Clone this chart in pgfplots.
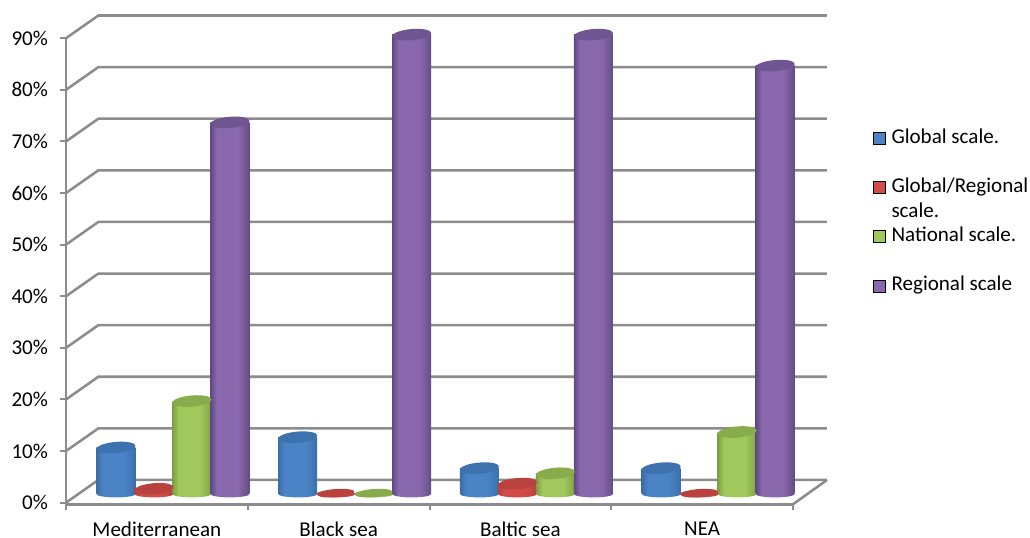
\documentclass[border=0pt]{standalone}
\usepackage{fontspec}
\setmainfont{Carlito}
\usepackage{pgfplots}
\usepackage{pgfplotstable}
\pgfplotsset{compat=1.18}

\definecolor{gridc}{HTML}{8C8C8C}
% name, edge, centre, top
\newcommand{\defcyl}[4]{%
  \definecolor{#1e}{HTML}{#2}\definecolor{#1c}{HTML}{#3}\definecolor{#1t}{HTML}{#4}%
  \pgfdeclarehorizontalshading{#1s}{100bp}{color(0bp)=(#1e); color(25bp)=(#1e); color(33bp)=(#1c); color(60bp)=(#1c); color(72bp)=(#1e!70!#1c); color(75bp)=(#1e); color(100bp)=(#1e)}%
  \pgfdeclareplotmark{#1top}{\pgfsetfillcolor{#1t}\pgfpathellipse{\pgfpointorigin}{\pgfqpoint{14.64pt}{1.28pt}}{\pgfqpoint{-0.37pt}{4.18pt}}\pgfusepath{fill}}%
  \pgfdeclareplotmark{#1base}{\pgfpathellipse{\pgfpointorigin}{\pgfqpoint{14.65pt}{0pt}}{\pgfqpoint{0pt}{2.6pt}}\pgfshadepath{#1s}{0}\pgfusepath{discard}}%
  \pgfdeclareplotmark{#1flat}{\pgfsetfillcolor{#1t}\pgfpathellipse{\pgfqpoint{0pt}{0.6pt}}{\pgfqpoint{14pt}{1pt}}{\pgfqpoint{0pt}{3.1pt}}\pgfusepath{fill}}%
}
\defcyl{cb}{3A6DA6}{4A84C6}{3E72AE}
\defcyl{cr}{B03F3B}{D24C47}{B9423E}
\defcyl{cg}{7D9F42}{A0C85C}{88AB4B}
\defcyl{cp}{5F4A80}{8A68AE}{6F5592}

\pgfplotstableread{
x      v  b
-0.225 9  0
0.775  11 0
1.775  5  0
2.775  5  0
}\tblb
\pgfplotstableread{
x      v  b
-0.016 1  0
0.984  0  0
1.984  2  0
2.984  0  0
}\tblr
\pgfplotstableread{
x      v  b
0.193  18 0
1.193  0  0
2.193  4  0
3.193  12 0
}\tblg
\pgfplotstableread{
x      v  b
0.402  72 0
1.402  89 0
2.402  89 0
3.402  83 0
}\tblp

% one ybar plot per bar, since a shading fills the whole path of a plot
\newcommand{\cylbar}[3]{%
  \addplot[ybar, bar width=29.25pt, bar shift=0pt, draw=none, shade, shading=#1s,
    restrict x to domain=#3, restrict y to domain=0.5:100, forget plot] table[x=x, y=v] {#2};
}
\newcommand{\cyl}[2]{%
  \addplot[only marks, mark=#1base, forget plot] table[x=x, y=b] {#2};
  \cylbar{#1}{#2}{-0.5:0.5}
  \cylbar{#1}{#2}{0.5:1.5}
  \cylbar{#1}{#2}{1.5:2.5}
  \cylbar{#1}{#2}{2.5:3.5}
  \addplot[only marks, mark=#1top, restrict y to domain=0.5:100, forget plot] table[x=x, y=v] {#2};
  \addplot[only marks, mark=#1flat, restrict y to domain=-0.5:0.5, forget plot] table[x=x, y=v] {#2};
}
\newcommand{\legtxt}[1]{\strut\smash{\parbox[t]{106pt}{\setlength{\baselineskip}{18.75pt}#1}}}

\begin{document}
\begin{tikzpicture}
\path[use as bounding box] (0,0) rectangle (772.5pt,403.5pt);
\begin{axis}[
    at={(49.5pt,25.3pt)}, anchor=south west,
    scale only axis,
    width=545.25pt, height=349.5pt,
    xmin=-0.5, xmax=3.5, ymin=-2, ymax=88.3,
    clip=false,
    axis lines=left,
    axis line style={draw=gridc, line width=1.9pt, -},
    tick style={draw=gridc, line width=1.5pt},
    tick align=outside,
    major tick length=4.5pt,
    xtick={-0.5,0.5,1.5,2.5,3.5}, xticklabels={},
    extra x ticks={0,1,2,3},
    extra x tick labels={Mediterranean,Black sea,Baltic sea,NEA},
    extra x tick style={major tick length=0pt, xticklabel style={yshift=-10pt}},
    ytick={-1.69,8.31,18.31,28.31,38.31,48.31,58.31,68.31,78.31,88.31},
    yticklabels={0\%,10\%,20\%,30\%,40\%,50\%,60\%,70\%,80\%,90\%},
    yticklabel style={xshift=-5.5pt},
    tick label style={font=\fontsize{15.8pt}{18pt}\selectfont},
    unbounded coords=jump,
    legend style={at={(axis cs:3.94,70.5)}, anchor=north west, draw=none, fill=none,
      inner sep=0pt, outer sep=0pt, row sep=25.6pt, column sep=4.5pt,
      font=\fontsize{15.8pt}{14pt}\selectfont,
      nodes={inner sep=0pt}},
    legend cell align=left,
    legend image code/.code={\fill[#1] (0pt,-5pt) rectangle (9pt,4pt);},
]
% back wall with its slanted side, one run for each gridline
\addplot[draw=gridc, line width=1.9pt, forget plot] coordinates {
  (-0.5,-1.69) (-0.322,2.71) (3.687,2.71) (nan,nan)
  (-0.5,8.31) (-0.322,12.71) (3.687,12.71) (nan,nan)
  (-0.5,18.31) (-0.322,22.71) (3.687,22.71) (nan,nan)
  (-0.5,28.31) (-0.322,32.71) (3.687,32.71) (nan,nan)
  (-0.5,38.31) (-0.322,42.71) (3.687,42.71) (nan,nan)
  (-0.5,48.31) (-0.322,52.71) (3.687,52.71) (nan,nan)
  (-0.5,58.31) (-0.322,62.71) (3.687,62.71) (nan,nan)
  (-0.5,68.31) (-0.322,72.71) (3.687,72.71) (nan,nan)
  (-0.5,78.31) (-0.322,82.71) (3.687,82.71) (nan,nan)
  (-0.5,88.31) (-0.322,92.71) (3.687,92.71)
};
% right edge of the floor
\addplot[draw=gridc, line width=1.9pt, forget plot] coordinates {(3.5,-2) (3.687,2.71)};

\cyl{cb}{\tblb}
\cyl{cr}{\tblr}
\cyl{cg}{\tblg}
\cyl{cp}{\tblp}

\addlegendimage{fill=cbc}\addlegendentry{\legtxt{Global scale.}}
\addlegendimage{fill=crc}\addlegendentry{\legtxt{Global/Regional\\scale.}}
\addlegendimage{fill=cgc}\addlegendentry{\legtxt{National scale.}}
\addlegendimage{fill=cpc}\addlegendentry{\legtxt{Regional scale}}
\end{axis}
\end{tikzpicture}
\end{document}
